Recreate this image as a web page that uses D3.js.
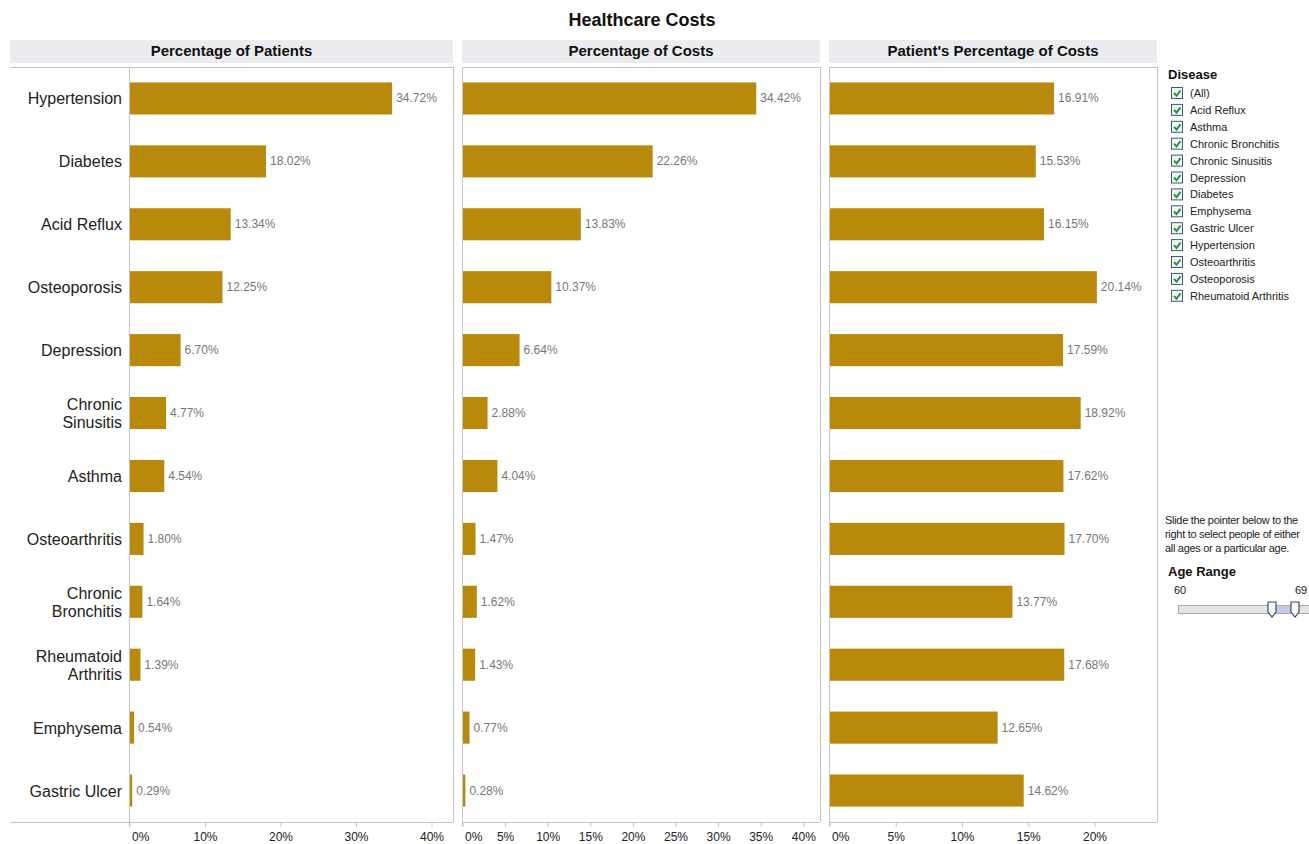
<!DOCTYPE html>
<html>
<head>
<meta charset="utf-8">
<script src="https://cdn.jsdelivr.net/npm/d3@7"></script>
<style>
  body { margin: 0; background: #fff; }
  svg { font-family: "Liberation Sans", Arial, sans-serif; display: block; }
</style>
</head>
<body>
<svg id="chart" width="1309" height="844"></svg>
<script>
// Diseases, in display order
const diseases = ["Hypertension", "Diabetes", "Acid Reflux", "Osteoporosis", "Depression",
  "Chronic Sinusitis", "Asthma", "Osteoarthritis", "Chronic Bronchitis",
  "Rheumatoid Arthritis", "Emphysema", "Gastric Ulcer"];
// Percentage of patients with each disease
const pctPatients = [34.72, 18.02, 13.34, 12.25, 6.70, 4.77, 4.54, 1.80, 1.64, 1.39, 0.54, 0.29];
// Percentage of total costs
const pctCosts = [34.42, 22.26, 13.83, 10.37, 6.64, 2.88, 4.04, 1.47, 1.62, 1.43, 0.77, 0.28];
// Patient's percentage of costs
const pctPatientCosts = [16.91, 15.53, 16.15, 20.14, 17.59, 18.92, 17.62, 17.70, 13.77, 17.68, 12.65, 14.62];

const ticksPatients = [0, 10, 20, 30, 40];
const ticksCosts = [0, 5, 10, 15, 20, 25, 30, 35, 40];
const ticksPatientCosts = [0, 5, 10, 15, 20];

const legendItems = ["(All)", "Acid Reflux", "Asthma", "Chronic Bronchitis", "Chronic Sinusitis",
  "Depression", "Diabetes", "Emphysema", "Gastric Ulcer", "Hypertension", "Osteoarthritis",
  "Osteoporosis", "Rheumatoid Arthritis"];

const barColor = "#b8890b";
const frameColor = "#c4c4c4";
const svg = d3.select("#chart");

svg.append("text").attr("x", 642).attr("y", 26).attr("text-anchor", "middle")
  .attr("font-size", 18).attr("font-weight", "bold").attr("fill", "#111").text("Healthcare Costs");

const plotTop = 67, plotBottom = 822;
const y = d3.scaleBand().domain(diseases).range([plotTop, plotBottom]).paddingInner(0.49).paddingOuter(0.245);

const panels = [
  { title: "Percentage of Patients", values: pctPatients, ticks: ticksPatients,
    hx0: 10, hx1: 453, fx0: 10, x0: 130, x1: 453, max: 42.78 },
  { title: "Percentage of Costs", values: pctCosts, ticks: ticksCosts,
    hx0: 462, hx1: 820, fx0: 462, x0: 463, x1: 820, max: 41.9 },
  { title: "Patient's Percentage of Costs", values: pctPatientCosts, ticks: ticksPatientCosts,
    hx0: 829, hx1: 1157, fx0: 829, x0: 830, x1: 1157, max: 24.68 }
];

panels.forEach((p, pi) => {
  const x = d3.scaleLinear().domain([0, p.max]).range([p.x0, p.x1]);
  const g = svg.append("g");

  // header band
  g.append("rect").attr("x", p.hx0).attr("y", 40).attr("width", p.hx1 - p.hx0).attr("height", 23)
    .attr("fill", "#ebecf0");
  g.append("text").attr("x", (p.hx0 + p.hx1) / 2).attr("y", 56).attr("text-anchor", "middle")
    .attr("font-size", 15).attr("font-weight", "bold").attr("fill", "#111").text(p.title);

  // frame
  g.append("line").attr("x1", p.fx0).attr("x2", p.x1).attr("y1", plotTop + 0.5).attr("y2", plotTop + 0.5)
    .attr("stroke", frameColor);
  g.append("line").attr("x1", p.fx0).attr("x2", p.x1).attr("y1", plotBottom + 0.5).attr("y2", plotBottom + 0.5)
    .attr("stroke", frameColor);
  g.append("line").attr("x1", p.x1 + 0.5).attr("x2", p.x1 + 0.5).attr("y1", plotTop).attr("y2", plotBottom)
    .attr("stroke", frameColor);
  g.append("line").attr("x1", x(0) - 0.5).attr("x2", x(0) - 0.5).attr("y1", plotTop).attr("y2", plotBottom + 5)
    .attr("stroke", frameColor);
  if (pi > 0) {
    g.append("line").attr("x1", p.fx0 + 0.5).attr("x2", p.fx0 + 0.5).attr("y1", plotTop).attr("y2", plotBottom)
      .attr("stroke", frameColor);
  }

  // bars
  g.selectAll("rect.bar").data(p.values).join("rect").attr("class", "bar")
    .attr("x", x(0)).attr("y", (d, i) => y(diseases[i]))
    .attr("width", d => x(d) - x(0)).attr("height", y.bandwidth())
    .attr("fill", barColor);

  // value labels
  g.selectAll("text.val").data(p.values).join("text").attr("class", "val")
    .attr("x", d => x(d) + 4).attr("y", (d, i) => y(diseases[i]) + y.bandwidth() / 2 + 4)
    .attr("font-size", 12).attr("fill", "#777").text(d => d.toFixed(2) + "%");

  // axis
  const axis = d3.axisBottom(x).tickValues(p.ticks).tickFormat(d => d + "%").tickSize(5).tickSizeOuter(0);
  const ag = g.append("g").attr("transform", `translate(-0.5,${plotBottom})`).call(axis);
  ag.select(".domain").remove();
  ag.selectAll(".tick line").attr("stroke", frameColor);
  ag.selectAll(".tick text").attr("font-size", 12).attr("fill", "#222")
    .attr("font-family", "'Liberation Sans', Arial, sans-serif").attr("dy", "0.95em")
    .attr("text-anchor", d => d === 0 ? "start" : "middle")
    .attr("dx", d => d === 0 ? 2 : 0);

  // category labels on first panel
  if (pi === 0) {
    const lab = g.selectAll("text.cat").data(diseases).join("text").attr("class", "cat")
      .attr("text-anchor", "end").attr("font-size", 16).attr("fill", "#222");
    lab.each(function (d) {
      const words = d.split(" ");
      const t = d3.select(this);
      const cy = y(d) + y.bandwidth() / 2;
      if (d === "Chronic Sinusitis" || d === "Chronic Bronchitis" || d === "Rheumatoid Arthritis") {
        t.append("tspan").attr("x", 122).attr("y", cy - 3).text(words[0]);
        t.append("tspan").attr("x", 122).attr("y", cy + 15).text(words[1]);
      } else {
        t.append("tspan").attr("x", 122).attr("y", cy + 6).text(d);
      }
    });
  }
});

// Disease filter list
const leg = svg.append("g");
leg.append("text").attr("x", 1168).attr("y", 79).attr("font-size", 13).attr("font-weight", "bold")
  .attr("fill", "#111").text("Disease");
legendItems.forEach((name, i) => {
  const cy = 93 + i * 16.9;
  leg.append("rect").attr("x", 1171.5).attr("y", cy - 5.5).attr("width", 11).attr("height", 11)
    .attr("fill", "#f4f6f8").attr("stroke", "#3b5a78");
  leg.append("path").attr("d", `M${1174} ${cy} L${1176.5} ${cy + 2.8} L${1180.5} ${cy - 2.5}`)
    .attr("fill", "none").attr("stroke", "#1f9a3a").attr("stroke-width", 2);
  leg.append("text").attr("x", 1190).attr("y", cy + 4).attr("font-size", 11).attr("fill", "#222").text(name);
});

// Age range slider
const note = ["Slide the pointer below to the", "right to select people of either", "all ages or a particular age."];
note.forEach((line, i) => {
  leg.append("text").attr("x", 1165).attr("y", 524 + i * 14).attr("font-size", 11)
    .attr("letter-spacing", -0.3).attr("fill", "#222").text(line);
});
leg.append("text").attr("x", 1168).attr("y", 576).attr("font-size", 13).attr("font-weight", "bold")
  .attr("fill", "#111").text("Age Range");
leg.append("text").attr("x", 1174).attr("y", 594).attr("font-size", 11).attr("fill", "#222").text("60");
leg.append("text").attr("x", 1295).attr("y", 594).attr("font-size", 11).attr("fill", "#222").text("69");
leg.append("rect").attr("x", 1178.5).attr("y", 605.5).attr("width", 140).attr("height", 8)
  .attr("fill", "#e3e3e3").attr("stroke", "#aaa");
leg.append("rect").attr("x", 1276).attr("y", 606).attr("width", 19).attr("height", 7).attr("fill", "#c6c8e4");
[1272, 1295].forEach(hx => {
  leg.append("path")
    .attr("d", `M${hx - 4} ${602} L${hx + 4} ${602} L${hx + 4} ${612} L${hx} ${617} L${hx - 4} ${612} Z`)
    .attr("fill", "#fff").attr("stroke", "#2e4d6e").attr("stroke-width", 1.2);
});
</script>
</body>
</html>
